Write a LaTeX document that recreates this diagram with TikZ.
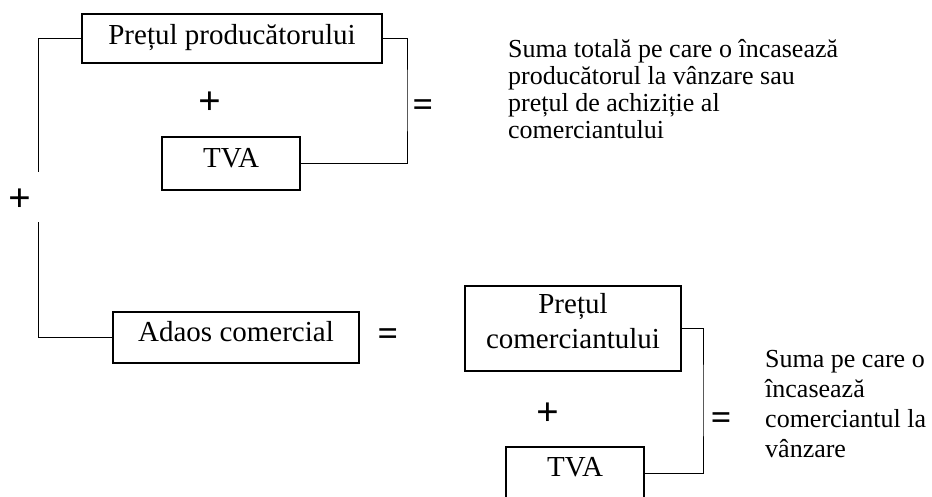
\documentclass[tikz,border=0pt]{standalone}
\usepackage{fontspec}
\setmainfont{Liberation Serif}
\begin{document}
\begin{tikzpicture}[x=1pt,y=-1pt,
  box/.style={draw, line width=1.3pt, inner sep=0pt, font=\fontsize{29}{35}\selectfont},
  conn/.style={line width=1pt},
  sym/.style={inner sep=0pt, font=\fontsize{40}{40}\selectfont\bfseries},
  eqsym/.style={inner sep=0pt, font=\fontsize{36}{36}\selectfont\bfseries},
  note/.style={inner sep=0pt, anchor=base west}]
\useasboundingbox (0,0) rectangle (932,496);
\clip (0,0) rectangle (932,496);

% upper group
\node[box, minimum width=300pt, minimum height=49pt, text height=20pt, text depth=7.8pt] (pp) at (232,38.5) {Prețul producătorului};
\node[box, minimum width=138pt, minimum height=53pt, text height=20pt, text depth=12.8pt] (tva1) at (231,163.5) {TVA};
\node[sym] (plus1) at (210,103) {+};
\node[eqsym] (eq1) at (423,108) {=};
\node[sym] (plus2) at (20,200) {+};

\coordinate (lend) at (38,172);
\coordinate (lstart) at (38,222);
\coordinate (r1) at (407,100);
\draw[conn] (pp.west) -| (lend);
\draw[conn] (pp.east) -| (r1) |- (tva1.east);

\node[note] (t1) at (508,57) {\parbox[t]{420pt}{\fontsize{26}{27.3}\selectfont
  Suma totală pe care o încasează\\
  producătorul la vânzare sau\\
  prețul de achiziție al\\
  comerciantului}};

% lower group
\node[box, minimum width=246pt, minimum height=51pt, text height=20pt, text depth=11.8pt] (ad) at (236,337.5) {Adaos comercial};
\draw[conn] (lstart) |- (ad.west);
\node[eqsym] (eq2) at (388,337) {=};

\node[box, minimum width=216pt, minimum height=85pt, text height=20pt, text depth=51pt] (pc) at (573,328.5)
  {\begin{tabular}[t]{@{}c@{}}Prețul\\ comerciantului\end{tabular}};
\node[box, minimum width=138pt, minimum height=52pt, text height=20pt, text depth=12.8pt] (tva2) at (575,473) {TVA};
\node[sym] (plus3) at (548,414) {+};
\node[eqsym] (eq3) at (721,421) {=};
\coordinate (r2) at (703,400);
\draw[conn] (pc.east) -| (r2) |- (tva2.east);

\node[note] (t2) at (765,367) {\parbox[t]{200pt}{\fontsize{26}{30.3}\selectfont
  Suma pe care o\\
  încasează\\
  comerciantul la\\
  vânzare}};
\end{tikzpicture}
\end{document}
